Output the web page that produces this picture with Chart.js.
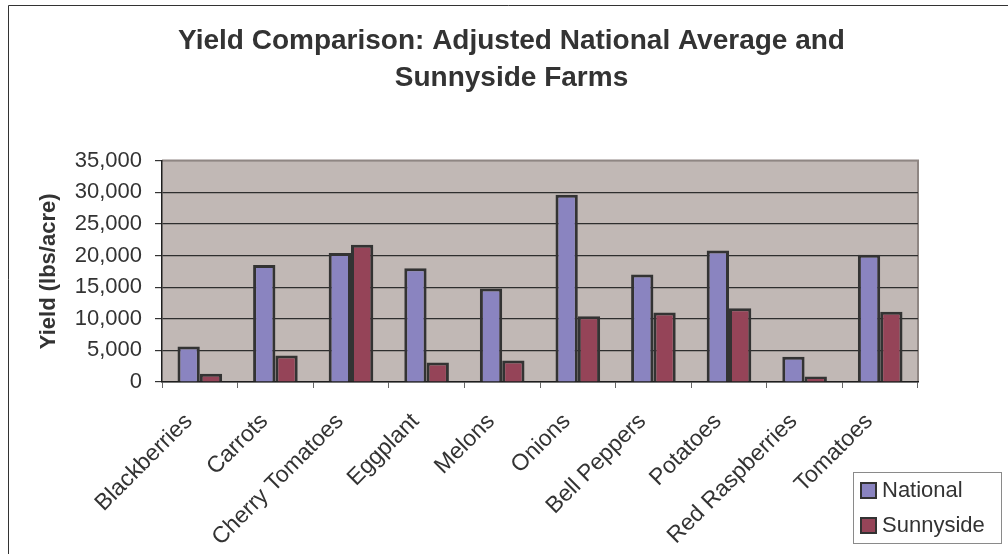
<!DOCTYPE html>
<html>
<head>
<meta charset="utf-8">
<script src="https://cdn.jsdelivr.net/npm/chart.js@4"></script>
<style>
    html, body { margin: 0; padding: 0; background: #fff; }
    #wrap { width: 1008px; height: 554px; }
</style>
</head>
<body>
<div id="wrap"><canvas id="yieldChart" width="1008" height="554"></canvas></div>
<script>
    // ── Dados ──
    const categorias = ['Blackberries', 'Carrots', 'Cherry Tomatoes', 'Eggplant', 'Melons',
        'Onions', 'Bell Peppers', 'Potatoes', 'Red Raspberries', 'Tomatoes'];
    const nacional = [5600, 18500, 20400, 18000, 14800, 29600, 17000, 20800, 4000, 20100];
    const sunnyside = [1300, 4200, 21700, 3100, 3400, 10400, 11000, 11650, 850, 11100];
    const yTicks = [0, 5000, 10000, 15000, 20000, 25000, 30000, 35000];

    const FONTE = "'Liberation Sans', Arial, sans-serif";
    const TEXTO = '#333333';

    // fundo branco, moldura externa e fundo da área de plotagem
    const fundoPlugin = {
        id: 'fundo',
        beforeDraw(chart) {
            const { ctx, chartArea: a } = chart;
            ctx.save();
            ctx.fillStyle = '#ffffff';
            ctx.fillRect(0, 0, chart.width, chart.height);
            ctx.strokeStyle = '#333333';
            ctx.lineWidth = 1;
            ctx.beginPath();
            ctx.moveTo(8.5, chart.height);
            ctx.lineTo(8.5, 5.5);
            ctx.lineTo(chart.width, 5.5);
            ctx.stroke();
            ctx.fillStyle = '#c1b8b5';
            ctx.fillRect(a.left, a.top, a.right - a.left, a.bottom - a.top);
            // borda cinza (topo e direita)
            ctx.strokeStyle = '#8f8683';
            ctx.lineWidth = 2;
            ctx.beginPath();
            ctx.moveTo(a.left, a.top);
            ctx.lineTo(a.right, a.top);
            ctx.lineTo(a.right, a.bottom);
            ctx.stroke();
            ctx.restore();
        }
    };

    // legenda em caixa no canto inferior direito
    const legendaPlugin = {
        id: 'legendaCaixa',
        afterDraw(chart) {
            const { ctx } = chart;
            const x = 853, y = 472, w = 148, h = 71;
            ctx.save();
            ctx.fillStyle = '#ffffff';
            ctx.fillRect(x, y, w, h);
            ctx.strokeStyle = '#8a8a8a';
            ctx.lineWidth = 1;
            ctx.strokeRect(x + 0.5, y + 0.5, w, h);
            ctx.font = '22px ' + FONTE;
            ctx.textBaseline = 'middle';
            chart.data.datasets.forEach((ds, i) => {
                const cy = y + 18 + i * 35;
                ctx.fillStyle = ds.backgroundColor;
                ctx.fillRect(x + 8, cy - 7, 15, 15);
                ctx.strokeStyle = '#333333';
                ctx.lineWidth = 2;
                ctx.strokeRect(x + 8, cy - 7, 15, 15);
                ctx.fillStyle = TEXTO;
                ctx.fillText(ds.label, x + 29, cy + 1);
            });
            ctx.restore();
        }
    };

    new Chart(document.getElementById('yieldChart'), {
        type: 'bar',
        data: {
            labels: categorias,
            datasets: [
                { label: 'National', data: nacional, backgroundColor: '#8a84c0', borderColor: '#333333', borderWidth: 3 },
                { label: 'Sunnyside', data: sunnyside, backgroundColor: '#954458', borderColor: '#333333', borderWidth: 3 }
            ]
        },
        options: {
            responsive: false,
            animation: false,
            layout: { padding: { left: 15, right: 0, top: 0, bottom: 0 } },
            datasets: { bar: { categoryPercentage: 0.59, barPercentage: 1.0 } },
            plugins: {
                legend: { display: false },
                tooltip: { enabled: false },
                title: {
                    display: true,
                    text: ['Yield Comparison: Adjusted National Average and', 'Sunnyside Farms'],
                    color: TEXTO,
                    font: { family: FONTE, size: 28, weight: 'bold', lineHeight: 1.35 },
                    padding: { top: 22, bottom: 63 }
                }
            },
            scales: {
                x: {
                    grid: { display: true, drawOnChartArea: false, drawTicks: true, tickLength: 6, color: '#666666' },
                    border: { display: true, color: '#1e1e1e', width: 1.5 },
                    ticks: {
                        color: TEXTO,
                        font: { family: FONTE, size: 23 },
                        minRotation: 45,
                        maxRotation: 45,
                        autoSkip: false,
                        padding: 20,
                        labelOffset: -11
                    },
                    afterFit: s => { s.height = 172; }
                },
                y: {
                    min: 0,
                    max: 35000,
                    afterBuildTicks: s => { s.ticks = yTicks.map(v => ({ value: v })); },
                    grid: {
                        color: c => (c.tick && c.tick.value === 35000) ? '#8f8683' : '#2e2e2e',
                        tickColor: '#333333',
                        tickLength: 7,
                        lineWidth: 1.2
                    },
                    border: { display: true, color: '#1e1e1e', width: 1.5 },
                    ticks: {
                        color: TEXTO,
                        font: { family: FONTE, size: 22 },
                        padding: 13,
                        callback: v => v.toLocaleString('en-US')
                    },
                    title: {
                        display: true,
                        text: 'Yield (lbs/acre)',
                        color: TEXTO,
                        font: { family: FONTE, size: 22, weight: 'bold' },
                        padding: { top: 21, bottom: 0 }
                    },
                    afterFit: s => { s.width = 147; }
                },
                // eixo vazio à direita só para reservar espaço da legenda
                yR: {
                    position: 'right',
                    display: true,
                    grid: { display: false },
                    border: { display: false },
                    ticks: { display: false },
                    afterFit: s => { s.width = 90; }
                }
            }
        },
        plugins: [fundoPlugin, legendaPlugin]
    });
</script>
</body>
</html>
